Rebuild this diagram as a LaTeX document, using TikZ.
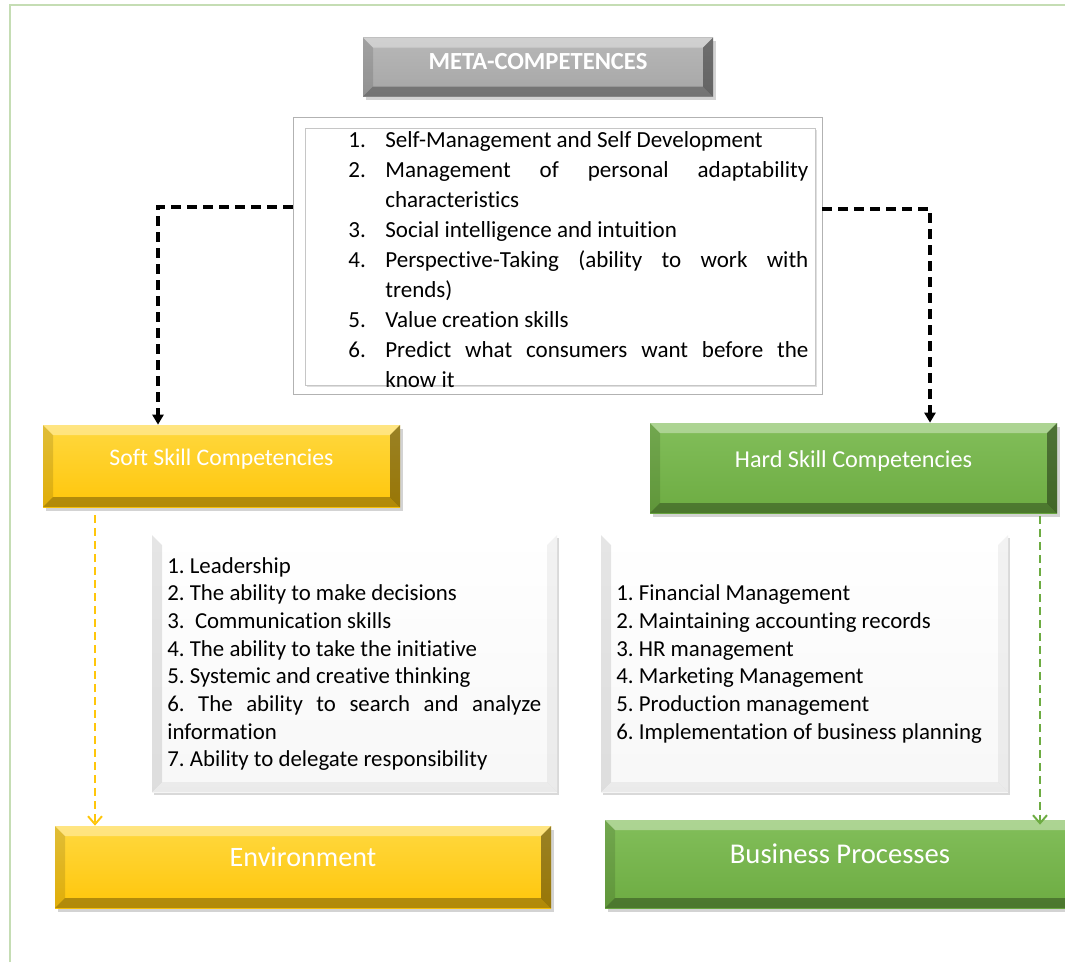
\documentclass[tikz,border=0pt]{standalone}
\usepackage{fontspec}
\setmainfont{Carlito}[Ligatures=NoCommon]
\usetikzlibrary{arrows.meta,positioning,shadows}
\frenchspacing

\definecolor{metagray}{HTML}{A6A6A6}
\definecolor{softyellow}{HTML}{FFC60A}
\definecolor{softyellowtop}{HTML}{FFD83F}
\definecolor{hardgreen}{HTML}{6DAC42}
\definecolor{hardgreentop}{HTML}{82BE5A}
\definecolor{pagegreen}{HTML}{C5DDB4}

% bevelled edges: top light, left / right / bottom dark
\newcommand{\bevelpic}[4]{%
  \def\ppb{path picture bounding box}%
  \fill[white,opacity=#1] (\ppb.north west) -- (\ppb.north east) -- ([shift={(-0.2,-0.2)}]\ppb.north east) -- ([shift={(0.2,-0.2)}]\ppb.north west) -- cycle;
  \fill[black,opacity=#2] (\ppb.north west) -- ([shift={(0.2,-0.2)}]\ppb.north west) -- ([shift={(0.2,0.2)}]\ppb.south west) -- (\ppb.south west) -- cycle;
  \fill[black,opacity=#3] (\ppb.north east) -- (\ppb.south east) -- ([shift={(-0.2,0.2)}]\ppb.south east) -- ([shift={(-0.2,-0.2)}]\ppb.north east) -- cycle;
  \fill[black,opacity=#4] (\ppb.south west) -- ([shift={(0.2,0.2)}]\ppb.south west) -- ([shift={(-0.2,0.2)}]\ppb.south east) -- (\ppb.south east) -- cycle;
}

\begin{document}
\begin{tikzpicture}

\tikzstyle{block} = [rectangle, inner sep=0pt, text centered, text=white, text height=0.3cm, text depth=0.32cm, drop shadow={shadow xshift=0.05cm, shadow yshift=-0.07cm, opacity=0.35}, path picture={\bevelpic{0.35}{0.12}{0.4}{0.3}}]
\tikzstyle{softblock} = [block, top color=softyellowtop, bottom color=softyellow]
\tikzstyle{hardblock} = [block, top color=hardgreentop, bottom color=hardgreen]
\tikzstyle{listbox} = [rectangle, inner sep=0pt, top color=white, bottom color=gray!6, drop shadow={shadow xshift=0.04cm, shadow yshift=-0.06cm, opacity=0.3}, path picture={\bevelpic{0.5}{0.1}{0.05}{0.05}}]
\tikzstyle{listtext} = [inner sep=0pt, anchor=west, align=justify, font=\fontsize{13}{15.75}\selectfont]
\tikzstyle{blackarrow} = [line width=2pt, dash pattern=on 0.2cm off 0.12cm, -{Triangle[length=0.2cm,width=0.22cm]}]
\tikzstyle{colarrow} = [line width=1.1pt, dash pattern=on 0.16cm off 0.1cm, -{Straight Barb[length=0.16cm,width=0.28cm]}]

\useasboundingbox (0,0) rectangle (21.3,-19.24);

% page frame
\draw[pagegreen, line width=0.6pt] (0.2,-19.24) -- (0.2,-0.1) -- (21.3,-0.1);

%% ----------------------
%% -- META-COMPETENCES --
%% ----------------------

\node (meta) [block, minimum width=7cm, minimum height=1.18cm, text height=0.3cm, text depth=0.22cm, top color=metagray!80, bottom color=metagray, font=\bfseries\fontsize{14}{16}\selectfont] at (10.76,-1.34) {META-COMPETENCES};

\node (metabox) [rectangle, draw=gray!60, fill=white, minimum width=10.58cm, minimum height=5.54cm] at (11.15,-5.11) {};
\node (metainner) [rectangle, draw=gray!45, fill=white, minimum width=10.2cm, minimum height=5.14cm, drop shadow={shadow xshift=0.04cm, shadow yshift=-0.04cm, opacity=0.25}] at (11.2,-5.13) {};

\node (metalist) [inner sep=0pt, anchor=north west, text width=9.2cm, align=justify, font=\fontsize{13.1}{17.07}\selectfont] at (6.96,-2.63) {%
  \hangindent=0.74cm\hangafter=1\makebox[0.74cm][l]{1.}Self-Management and Self Development\par
  \hangindent=0.74cm\hangafter=1\makebox[0.74cm][l]{2.}Management of personal adaptability\linebreak characteristics\par
  \hangindent=0.74cm\hangafter=1\makebox[0.74cm][l]{3.}Social intelligence and intuition\par
  \hangindent=0.74cm\hangafter=1\makebox[0.74cm][l]{4.}Perspective-Taking (ability to work with\linebreak trends)\par
  \hangindent=0.74cm\hangafter=1\makebox[0.74cm][l]{5.}Value creation skills\par
  \hangindent=0.74cm\hangafter=1\makebox[0.74cm][l]{6.}Predict what consumers want before the\linebreak know it\par};

%% -----------------
%% -- SKILL TYPES --
%% -----------------

\node (soft) [softblock, minimum width=7.14cm, minimum height=1.64cm, font=\fontsize{13.5}{16}\selectfont] at (4.43,-9.32) {Soft Skill Competencies};
\node (hard) [hardblock, minimum width=8.14cm, minimum height=1.8cm, font=\fontsize{13.8}{16}\selectfont] at (17.07,-9.36) {Hard Skill Competencies};

\draw [blackarrow] ([yshift=0.97cm]metabox.west) -| ([xshift=-1.27cm]soft.north);
\draw [blackarrow] ([yshift=0.93cm]metabox.east) -| ([xshift=1.53cm]hard.north);

% lists of competencies
\node (softbox) [listbox, minimum width=8.1cm, minimum height=5.14cm] at (7.09,-13.27) {};
\node (hardbox) [listbox, minimum width=8.14cm, minimum height=5.14cm] at (16.09,-13.27) {};

\node (softlist) [listtext, text width=7.48cm] at (3.34,-13.28) {%
  1. Leadership\par
  2. The ability to make decisions\par
  3.\ \ Communication skills\par
  4. The ability to take the initiative\par
  5. Systemic and creative thinking\par
  6. The ability to search and analyze\linebreak information\par
  7. Ability to delegate responsibility\par};
\node (hardlist) [listtext, text width=7.6cm, align=flush left] at (12.32,-13.28) {%
  1. Financial Management\\
  2. Maintaining accounting records\\
  3. HR management\\
  4. Marketing Management\\
  5. Production management\\
  6. Implementation of business planning};

%% --------------
%% -- OUTCOMES --
%% --------------

\node (env) [softblock, minimum width=9.92cm, minimum height=1.64cm, font=\fontsize{16}{19}\selectfont] at (6.06,-17.34) {Environment};
\node (business) [hardblock, minimum width=9.4cm, minimum height=1.76cm, font=\fontsize{16.3}{19}\selectfont] at (16.8,-17.28) {Business Processes};

\coordinate (softdash) at ([xshift=-2.53cm,yshift=-0.16cm]soft.south);
\coordinate (harddash) at ([xshift=3.73cm,yshift=-0.05cm]hard.south);
\draw [colarrow, softyellow] (softdash) -- (softdash |- env.north);
\draw [colarrow, hardgreen] (harddash) -- ([yshift=-0.1cm]harddash |- business.north);

\end{tikzpicture}
\end{document}
